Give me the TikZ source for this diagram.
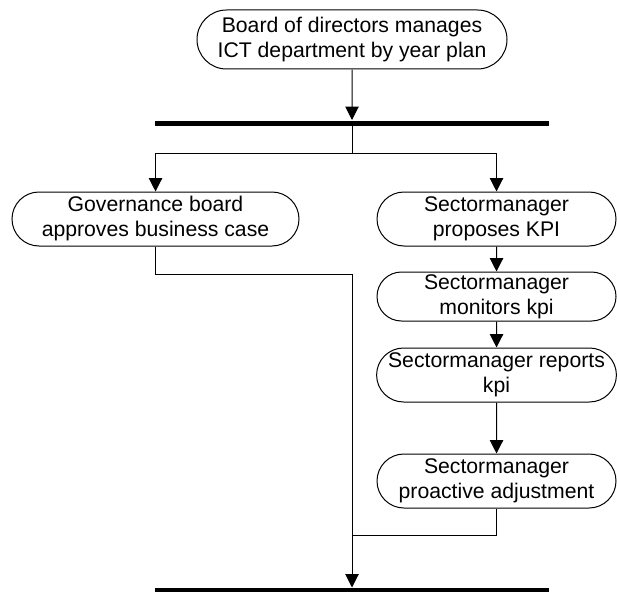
\documentclass[tikz,border=0pt]{standalone}
\usepackage{fontspec}
\setmainfont{Liberation Sans}
\usetikzlibrary{arrows.meta, shapes.misc}

\tikzset{
  etape/.style={draw, rounded rectangle, align=center, inner sep=0pt,
    minimum width=179.25pt, minimum height=40.5pt,
    font=\fontsize{15.9}{18.75}\selectfont},
  barre/.style={fill=black, inner sep=0pt, minimum width=295.5pt, minimum height=3.75pt},
  fleche/.style={-{Triangle[width=10pt,length=10pt]}}
}

\begin{document}
\begin{tikzpicture}[x=0.75pt, y=-0.75pt, line width=0.75pt]
                \useasboundingbox (0,0) rectangle (617,592);

                % Les étapes
                \node[etape, minimum width=232.5pt, minimum height=44.25pt] (plan) at (352,39.5) {Board of directors manages\\ICT department by year plan};
                \node[barre] (barre1) at (352,123) {};
                \node[etape, minimum width=215.25pt] (gouv) at (155.5,219) {Governance board\\approves business case};
                \node[etape] (kpi1) at (496.5,219) {Sectormanager\\proposes KPI};
                \node[etape, minimum height=36.75pt] (kpi2) at (496.5,296.5) {Sectormanager\\monitors kpi};
                \node[etape] (kpi3) at (496.5,375) {Sectormanager reports\\kpi};
                \node[etape] (kpi4) at (496.5,481) {Sectormanager\\proactive adjustment};
                \node[barre] (barre2) at (352,590.5) {};

                % Points de passage
                \coordinate (fourche) at (352,153);
                \coordinate (coude1) at (352,274);
                \coordinate (coude2) at (352,535);

                % Les flèches
                \draw[fleche] (plan) -- (barre1);
                \draw (barre1) -- (fourche);
                \draw[fleche] (fourche) -| (gouv);
                \draw[fleche] (fourche) -| (kpi1);
                \draw[fleche] (kpi1) -- (kpi2);
                \draw[fleche] (kpi2) -- (kpi3);
                \draw[fleche] (kpi3) -- (kpi4);
                \draw[fleche] (gouv) |- (coude1) -- (barre2);
                \draw (kpi4) |- (coude2);
            \end{tikzpicture}
\end{document}
